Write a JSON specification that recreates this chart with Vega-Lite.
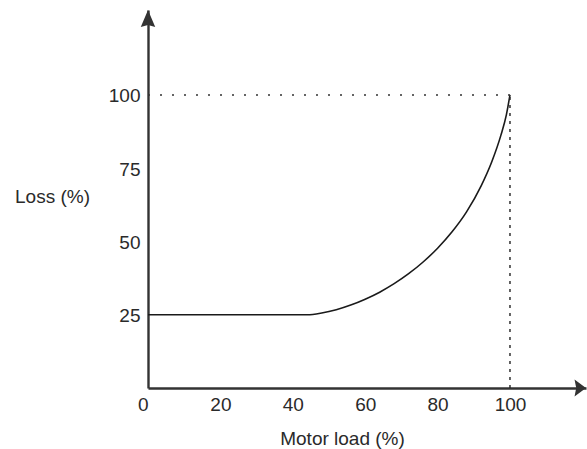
{
  "$schema": "https://vega.github.io/schema/vega-lite/v6.json",
  "width": 438,
  "height": 378,
  "autosize": "none",
  "padding": {"left": 148, "top": 10, "right": 1, "bottom": 61},
  "background": "white",
  "config": {
    "view": {"stroke": null},
    "font": "Liberation Sans",
    "axis": {
      "domainColor": "#333333",
      "domainWidth": 2.4,
      "ticks": false,
      "grid": false,
      "labelFont": "Liberation Sans",
      "labelFontSize": 19,
      "labelColor": "#2a2a2a",
      "titleFont": "Liberation Sans",
      "titleFontSize": 19,
      "titleFontWeight": "normal",
      "titleColor": "#2a2a2a"
    }
  },
  "datasets": {
    "curve": [
      {"load": 0, "loss": 25},
      {"load": 20, "loss": 25},
      {"load": 40, "loss": 25},
      {"load": 44, "loss": 25},
      {"load": 48, "loss": 25.6},
      {"load": 52, "loss": 26.7},
      {"load": 56, "loss": 28.3},
      {"load": 60, "loss": 30.3},
      {"load": 64, "loss": 32.7},
      {"load": 68, "loss": 35.6},
      {"load": 72, "loss": 39},
      {"load": 76, "loss": 43},
      {"load": 80, "loss": 47.7},
      {"load": 84, "loss": 53.3},
      {"load": 88, "loss": 60.1},
      {"load": 92, "loss": 68.9},
      {"load": 95, "loss": 77.3},
      {"load": 97.5, "loss": 86.3},
      {"load": 99, "loss": 93.2},
      {"load": 100, "loss": 100}
    ],
    "hguide": [{"load": 0, "load2": 100, "loss": 100}],
    "vguide": [{"load": 100, "loss": 0, "loss2": 100}],
    "yarrow": [{"load": 0, "loss": 129}],
    "xarrow": [{"load": 121, "loss": 0}]
  },
  "layer": [
    {
      "data": {"name": "curve"},
      "mark": {"type": "line", "color": "#1a1a1a", "strokeWidth": 1.6, "interpolate": "monotone"},
      "encoding": {
        "x": {
          "field": "load", "type": "quantitative",
          "scale": {"domain": [0, 121], "nice": false},
          "axis": {
            "values": [0, 20, 40, 60, 80, 100],
            "title": "Motor load (%)",
            "labelPadding": 7,
            "labelAlign": {"condition": {"test": "datum.value === 0", "value": "right"}, "value": "center"},
            "titleX": 194,
            "titleY": 56,
            "titleAlign": "center",
            "titleBaseline": "alphabetic"
          }
        },
        "y": {
          "field": "loss", "type": "quantitative",
          "scale": {"domain": [0, 129], "nice": false},
          "axis": {
            "values": [25, 50, 75, 100],
            "title": "Loss (%)",
            "labelPadding": 8,
            "labelOffset": 1,
            "titleAngle": 0,
            "titleX": -96,
            "titleY": 186,
            "titleAlign": "center",
            "titleBaseline": "middle"
          }
        }
      }
    },
    {
      "data": {"name": "hguide"},
      "mark": {"type": "rule", "color": "#333333", "strokeWidth": 1.5, "strokeDash": [2, 10]},
      "encoding": {
        "x": {"field": "load", "type": "quantitative"},
        "x2": {"field": "load2"},
        "y": {"field": "loss", "type": "quantitative"}
      }
    },
    {
      "data": {"name": "vguide"},
      "mark": {"type": "rule", "color": "#222222", "strokeWidth": 1.4, "strokeDash": [3, 5]},
      "encoding": {
        "x": {"field": "load", "type": "quantitative"},
        "y": {"field": "loss", "type": "quantitative"},
        "y2": {"field": "loss2"}
      }
    },
    {
      "data": {"name": "yarrow"},
      "mark": {"type": "point", "filled": true, "color": "#333333", "opacity": 1, "size": 289, "shape": "M0,0L0.85,2L0,1.75L-0.85,2Z"},
      "encoding": {
        "x": {"field": "load", "type": "quantitative"},
        "y": {"field": "loss", "type": "quantitative"}
      }
    },
    {
      "data": {"name": "xarrow"},
      "mark": {"type": "point", "filled": true, "color": "#333333", "opacity": 1, "size": 289, "shape": "M0,0L-1.35,-1L-1.15,0L-1.35,1Z"},
      "encoding": {
        "x": {"field": "load", "type": "quantitative"},
        "y": {"field": "loss", "type": "quantitative"}
      }
    }
  ]
}
